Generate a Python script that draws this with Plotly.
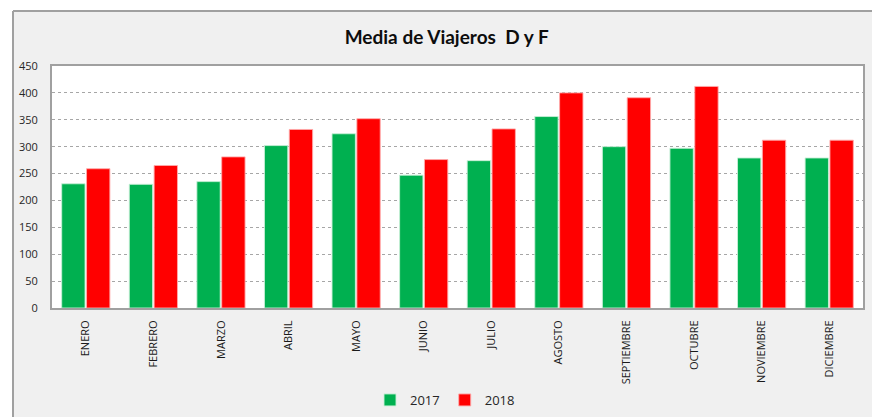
import plotly.graph_objects as go

months = ["ENERO", "FEBRERO", "MARZO", "ABRIL", "MAYO", "JUNIO", "JULIO",
          "AGOSTO", "SEPTIEMBRE", "OCTUBRE", "NOVIEMBRE", "DICIEMBRE"]
v2017 = [231, 230, 235, 302, 324, 247, 274, 356, 300, 297, 279, 279]
v2018 = [259, 265, 281, 332, 352, 276, 333, 400, 391, 412, 312, 312]
y_ticks = [0, 50, 100, 150, 200, 250, 300, 350, 400, 450]

GREEN = "#00b050"
RED = "#ff0000"
FONT = "Open Sans"

fig = go.Figure()
fig.add_trace(go.Bar(x=months, y=v2017, name="2017", marker_color=GREEN,
                     marker_line=dict(color="rgba(200,240,215,0.9)", width=1)))
fig.add_trace(go.Bar(x=months, y=v2018, name="2018", marker_color=RED,
                     marker_line=dict(color="rgba(255,170,170,0.9)", width=1)))

# plot area pixel geometry: left 52, right 863, top 66, bottom 308
PW, PH = 811.0, 242.0
def px_x(p):
    return (p - 52) / PW
def px_y(p):
    return (308 - p) / PH

fig.update_layout(
    width=872, height=417,
    margin=dict(l=52, r=9, t=66, b=109, autoexpand=False),
    paper_bgcolor="#f0f0f0",
    plot_bgcolor="#ffffff",
    barmode="group", bargap=0.265, bargroupgap=0.06,
    font=dict(family=FONT, size=11, color="#262626"),
    title=dict(text="<b>Media de Viajeros  D y F</b>",
               font=dict(family="Lato", size=19, color="#0d0d0d"),
               x=px_x(446.7), xref="paper", xanchor="center",
               y=1 - 37.5 / 417, yref="container", yanchor="middle"),
    showlegend=True,
    legend=dict(orientation="h", xref="container", x=445 / 872, xanchor="center",
                yref="container", y=1 - 400 / 417, yanchor="middle",
                font=dict(family=FONT, size=13, color="#262626"),
                bgcolor="rgba(0,0,0,0)", itemwidth=30),
    xaxis=dict(tickangle=-90, showgrid=False, showline=True, automargin=False,
               linecolor="#a0a0a0", linewidth=2, mirror=True,
               ticks="", tickfont=dict(size=11, color="#1a1a1a"),
               ticklabelstandoff=6),
    yaxis=dict(range=[0, 450], tickvals=y_ticks, showgrid=True, automargin=False,
               gridcolor="#a6a6a6", griddash="dot", gridwidth=1,
               showline=True, linecolor="#a0a0a0", linewidth=2, mirror=True,
               ticks="", zeroline=False,
               tickfont=dict(size=11, color="#262626"),
               ticklabelstandoff=10),
)

# outer white area and chart border (chart frame is cropped at right/bottom)
x_border = px_x(13)
y_border = 1 + (66 - 11) / PH
fig.add_shape(type="rect", xref="paper", yref="paper",
              x0=-0.2, x1=1.2, y0=y_border, y1=1.5,
              fillcolor="#ffffff", line=dict(width=0), layer="above")
fig.add_shape(type="rect", xref="paper", yref="paper",
              x0=-0.2, x1=x_border, y0=-1, y1=1.5,
              fillcolor="#ffffff", line=dict(width=0), layer="above")
fig.add_shape(type="line", xref="paper", yref="paper",
              x0=x_border, x1=x_border, y0=-1, y1=y_border,
              line=dict(color="#a0a0a0", width=2), layer="above")
fig.add_shape(type="line", xref="paper", yref="paper",
              x0=x_border, x1=1.2, y0=y_border, y1=y_border,
              line=dict(color="#a0a0a0", width=2), layer="above")

fig.write_html("out.html",
               config={"displayModeBar": False},
               post_script="document.body.style.margin='0';"
                           "document.body.style.overflow='hidden';")
